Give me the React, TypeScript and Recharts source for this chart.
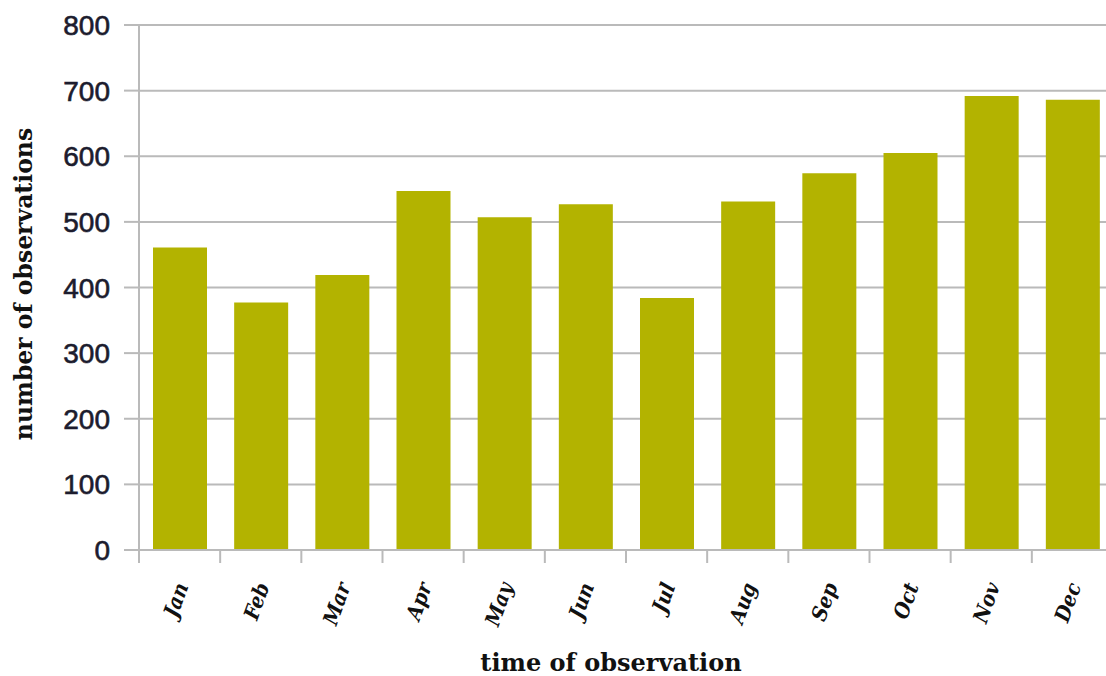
import React from "react";
import { BarChart, Bar, XAxis, YAxis, CartesianGrid } from "recharts";

const months = ["Jan", "Feb", "Mar", "Apr", "May", "Jun", "Jul", "Aug", "Sep", "Oct", "Nov", "Dec"];
const observations = [461, 377, 419, 547, 507, 527, 384, 531, 574, 605, 692, 686];
const yTicks = [0, 100, 200, 300, 400, 500, 600, 700, 800];
const xTitle = "time of observation";
const yTitle = "number of observations";

const data = months.map((m, i) => ({ month: m, value: observations[i] }));

const CHART_W = 1113;
const CHART_H = 676;
const Y_AXIS_W = 139;
const MARGIN = { top: 25, right: 0, bottom: 0, left: 0 };
const X_AXIS_H = 126;
const BAND = (CHART_W - Y_AXIS_W - MARGIN.left - MARGIN.right) / months.length;
const GRAY = "#bababa";

const XTick = (props: any) => {
  const { x, y, payload } = props;
  const ax = x + 9;
  const ay = y + 36;
  return (
    <g>
      <line x1={x - BAND / 2} x2={x - BAND / 2} y1={y} y2={y + 13} stroke={GRAY} strokeWidth={2} />
      <text
        x={ax}
        y={ay}
        textAnchor="end"
        transform={`rotate(-70 ${ax} ${ay})`}
        fontFamily="'DejaVu Serif Condensed', 'DejaVu Serif', serif"
        fontWeight="bold"
        fontStyle="italic"
        fontSize={21}
        fill="#111"
      >
        {payload.value}
      </text>
    </g>
  );
};

const YTick = (props: any) => {
  const { x, y, payload } = props;
  return (
    <text
      x={x}
      y={y}
      dy={10}
      textAnchor="end"
      fontFamily="'Liberation Sans', Arial, sans-serif"
      fontSize={28}
      fill="#1c1c2e"
      stroke="#1c1c2e"
      strokeWidth={0.6}
    >
      {payload.value}
    </text>
  );
};

const YLabel = () => (
  <text
    x={32}
    y={284}
    textAnchor="middle"
    transform="rotate(-90 32 284)"
    fontFamily="'DejaVu Serif', serif"
    fontWeight="bold"
    fontSize={23.5}
    fill="#111"
  >
    {yTitle}
  </text>
);

const XLabel = () => (
  <text
    x={611}
    y={671}
    textAnchor="middle"
    fontFamily="'DejaVu Serif', serif"
    fontWeight="bold"
    fontSize={24}
    fill="#111"
  >
    {xTitle}
  </text>
);

export default function App() {
  return (
    <div
      style={{
        position: "absolute",
        left: 0,
        top: 0,
        width: 1106,
        height: 676,
        overflow: "hidden",
        background: "#fff",
      }}
    >
      <BarChart width={CHART_W} height={CHART_H} data={data} margin={MARGIN}>
        <CartesianGrid vertical={false} stroke={GRAY} strokeWidth={2} />
        <XAxis
          dataKey="month"
          height={X_AXIS_H}
          axisLine={{ stroke: GRAY, strokeWidth: 2 }}
          tickLine={false}
          tickSize={0}
          tickMargin={0}
          interval={0}
          tick={<XTick />}
          label={<XLabel />}
        />
        <YAxis
          width={Y_AXIS_W}
          domain={[0, 800]}
          ticks={yTicks}
          interval={0}
          axisLine={{ stroke: GRAY, strokeWidth: 2 }}
          tickLine={{ stroke: GRAY, strokeWidth: 2 }}
          tickSize={15}
          tickMargin={14}
          tick={<YTick />}
          label={<YLabel />}
        />
        <Bar dataKey="value" fill="#b3b300" barSize={54} isAnimationActive={false} />
      </BarChart>
    </div>
  );
}
